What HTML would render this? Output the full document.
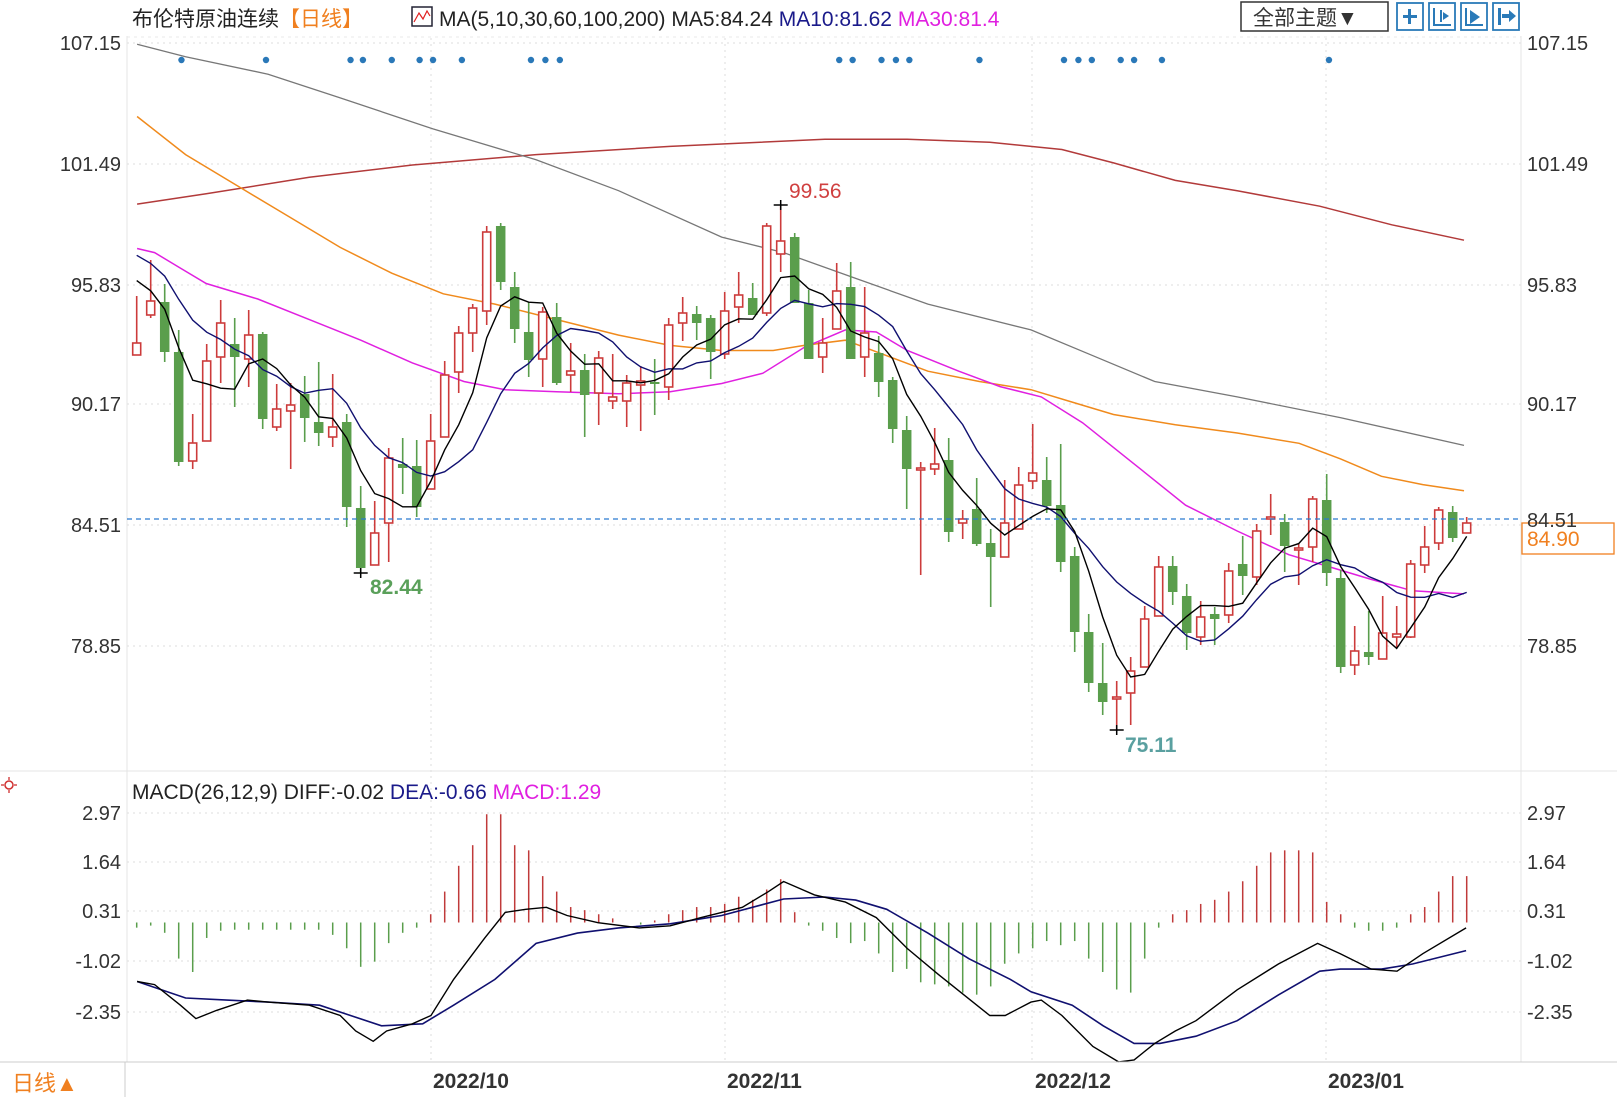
<!DOCTYPE html>
<html><head><meta charset="utf-8"><style>
html,body{margin:0;padding:0;background:#fff;}
svg{display:block;}
text{font-family:"Liberation Sans","Noto Sans CJK SC",sans-serif;}
</style></head><body>
<svg id="s" width="1617" height="1097" viewBox="0 0 1617 1097" xmlns="http://www.w3.org/2000/svg">
<rect width="1617" height="1097" fill="#fff"/>
<g id="grid"></g>
<g id="lines"></g>
<g id="candles"></g>
<g id="macd"></g>
<!-- header -->
<text x="132" y="26" font-size="21" fill="#222">布伦特原油连续<tspan fill="#f08020">【日线】</tspan></text>
<rect x="412" y="7" width="20" height="19" fill="#fff" stroke="#223" stroke-width="1.5"/>
<polyline points="414,22 419,13 423,19 427,11 430,16" fill="none" stroke="#e02020" stroke-width="1.2"/>
<text x="439" y="26" font-size="21" fill="#222">MA(5,10,30,60,100,200) MA5:84.24 <tspan fill="#1a1a8a">MA10:81.62</tspan> <tspan fill="#e020e0">MA30:81.4</tspan></text>
<rect x="1241" y="2" width="147" height="29" fill="#fff" stroke="#333" stroke-width="1.5"/>
<text x="1253" y="25" font-size="21" fill="#333">全部主题▼</text>
<g fill="none" stroke="#2a7ab8" stroke-width="1.8">
<rect x="1397" y="3" width="26" height="27"/><rect x="1429" y="3" width="26" height="27"/><rect x="1461" y="3" width="26" height="27"/><rect x="1493" y="3" width="26" height="27"/>
</g>
<g fill="#2a7ab8">
<rect x="1403" y="15" width="14" height="3"/><rect x="1408" y="9" width="3" height="15"/>
<rect x="1433" y="8" width="2" height="18"/><rect x="1433" y="24" width="18" height="2"/><rect x="1440" y="10" width="2" height="12"/><path d="M1443 12 l6 4 -6 4z"/>
<rect x="1465" y="8" width="2" height="18"/><rect x="1465" y="24" width="18" height="2"/><path d="M1470 10 l10 7 -10 7z"/>
<rect x="1498" y="8" width="3" height="17"/><rect x="1502" y="14" width="8" height="4"/><path d="M1509 10 l7 6 -7 6z"/>
</g>
<!-- macd header -->
<circle cx="9" cy="785" r="4" fill="none" stroke="#d03030" stroke-width="1.5"/>
<g stroke="#d03030" stroke-width="1.3"><line x1="1" y1="785" x2="4" y2="785"/><line x1="14" y1="785" x2="17" y2="785"/><line x1="9" y1="777" x2="9" y2="780"/><line x1="9" y1="790" x2="9" y2="793"/></g>
<text x="132" y="799" font-size="21" fill="#222">MACD(26,12,9) DIFF:-0.02 <tspan fill="#1a1a8a">DEA:-0.66</tspan> <tspan fill="#e020e0">MACD:1.29</tspan></text>
<!-- bottom -->
<line x1="0" y1="1062" x2="1617" y2="1062" stroke="#ccc" stroke-width="1"/>
<line x1="125" y1="1062" x2="125" y2="1097" stroke="#ccc" stroke-width="1"/>
<text x="12" y="1091" font-size="22" fill="#f08020">日线▲</text>
<g font-size="21" font-weight="bold" fill="#333">
<text x="433" y="1088">2022/10</text><text x="727" y="1088">2022/11</text><text x="1035" y="1088">2022/12</text><text x="1328" y="1088">2023/01</text>
</g>
<!-- price labels -->
<g font-size="20" fill="#333" id="axl"></g>
</svg>
<script>
var NS="http://www.w3.org/2000/svg";
function el(p,t,a,txt){var e=document.createElementNS(NS,t);for(var k in a)e.setAttribute(k,a[k]);if(txt!==undefined)e.textContent=txt;document.getElementById(p).appendChild(e);return e;}
var S=1.031;
function sc(a){return a.map(function(p){return (p[0]*S).toFixed(1)+","+(p[1]*S).toFixed(1);}).join(" ");}
// grid
var hy=[43,164,285,404,525,646];var lab=["107.15","101.49","95.83","90.17","84.51","78.85"];
for(var i=0;i<hy.length;i++){
 el("grid","line",{x1:127,y1:hy[i],x2:1521,y2:hy[i],stroke:"#ddd","stroke-dasharray":"2,4"});
 el("axl","text",{x:121,y:hy[i]+7,"text-anchor":"end"},lab[i]);
 if(i!=4) el("axl","text",{x:1527,y:hy[i]+7},lab[i]);
}
el("axl","text",{x:1527,y:hy[4]+2},"84.51");
var my=[813,862,911,961,1012];var ml=["2.97","1.64","0.31","-1.02","-2.35"];
for(var i=0;i<my.length;i++){
 el("grid","line",{x1:127,y1:my[i],x2:1521,y2:my[i],stroke:"#ddd","stroke-dasharray":"2,4"});
 el("axl","text",{x:121,y:my[i]+7,"text-anchor":"end"},ml[i]);
 el("axl","text",{x:1527,y:my[i]+7},ml[i]);
}
[431,725,1032,1326].forEach(function(x){el("grid","line",{x1:x,y1:38,x2:x,y2:1062,stroke:"#ddd","stroke-dasharray":"2,4"});});
el("grid","line",{x1:127,y1:36,x2:127,y2:1062,stroke:"#e4e4e4"});
el("grid","line",{x1:1521,y1:36,x2:1521,y2:1062,stroke:"#e4e4e4"});
el("grid","line",{x1:0,y1:771,x2:1617,y2:771,stroke:"#e4e4e4"});
el("grid","line",{x1:127,y1:37,x2:1521,y2:37,stroke:"#e8e8e8","stroke-dasharray":"3,4"});
// candles [o,c,h,l]
var C=[[355,343,296,355],[315,301,260,318],[302,352,284,362],[352,462,330,466],[461,443,414,469],[441,361,344,441],[357,323,300,383],[344,357,318,407],[359,335,310,387],[334,419,332,429],[427,409,384,431],[411,405,383,469],[394,418,376,442],[422,433,362,446],[437,427,374,447],[422,507,414,527],[508,568,486,573],[565,533,501,565],[523,458,448,562],[464,468,438,494],[466,507,440,517],[489,441,414,489],[437,375,361,437],[372,333,326,393],
[333,308,304,352],[311,232,226,325],[226,282,223,290],[287,329,272,343],[332,360,302,377],[359,312,307,387],[317,383,303,385],[375,371,343,392],[370,395,354,437],[393,358,351,425],[401,397,354,409],[401,383,375,427],[385,381,366,431],[382,383,359,415],[387,325,318,400],[323,313,297,341],[314,323,306,340],[318,352,315,379],[354,311,292,359],[307,295,272,323],[298,315,283,315],[313,226,223,316],[254,241,206,272],[237,303,233,303],[303,359,290,359],[357,343,318,373],[329,291,263,329],[287,359,262,359],[357,333,287,377],
[353,382,336,397],[380,429,377,443],[430,469,416,509],[469,468,462,575],[469,464,428,475],[460,532,438,542],[523,519,510,539],[509,544,478,546],[543,557,529,607],[557,523,480,557],[529,485,467,529],[481,473,424,489],[480,506,457,513],[505,562,444,572],[556,632,547,652],[632,683,614,692],[683,702,643,715],[699,697,681,731],[693,671,657,725],[667,619,606,667],[616,567,556,616],[566,592,556,605],[596,633,584,650],
[637,617,601,645],[614,619,607,645],[615,571,563,623],[564,576,536,595],[577,531,524,585],[519,517,494,535],[522,546,514,572],[549,548,543,585],[547,499,496,562],[500,573,474,586],[578,667,570,673],[665,651,626,675],[652,657,611,665],[659,633,596,659],[637,634,606,648],[637,564,560,638],[565,547,526,573],[543,510,507,550],[512,538,506,542],[533,523,517,533]];
function X(i){return 136.7+14*i;}
var red="#cc3b3b",grn="#5a9e4c",w=9.5;
C.forEach(function(c,i){
 var x=X(i),o=c[0],cl=c[1],h=c[2],l=c[3];
 var up=cl<=o; var top=Math.min(o,cl),bot=Math.max(o,cl); if(bot-top<2){bot=top+2;}
 var col=up?red:grn;
 el("candles","line",{x1:x,y1:h,x2:x,y2:l,stroke:col,"stroke-width":1.6});
 if(up) el("candles","rect",{x:x-w/2+0.75,y:top,width:w-1.5,height:bot-top,fill:"#fff",stroke:col,"stroke-width":1.6});
 else el("candles","rect",{x:x-w/2,y:top,width:w,height:bot-top,fill:col});
});
// MA5/MA10 from closes
var pad=[220,225,230,235,240,250,260,270,280];
var cls=pad.concat(C.map(function(c){return c[1];}));
function ma(n){var pts=[];for(var i=0;i<C.length;i++){var s=0;for(var k=0;k<n;k++)s+=cls[i+9-k];pts.push(X(i).toFixed(1)+","+(s/n).toFixed(1));}return pts.join(" ");}
// hand lines (displayed coords)
var MA30=[[133,241],[150,245],[175,260],[200,275],[250,290],[300,310],[350,330],[400,352],[450,370],[490,378],[540,380],[600,382],[650,380],[700,372],[740,362],[780,337],[820,320],[850,322],[880,340],[930,360],[970,375],[1010,385],[1050,410],[1100,450],[1150,490],[1200,515],[1250,538],[1290,550],[1330,562],[1370,573],[1420,576]];
var MA60=[[133,113],[180,150],[230,180],[280,210],[330,240],[380,265],[430,285],[480,295],[540,310],[600,325],[650,335],[700,340],[750,340],[780,335],[820,330],[860,345],[900,360],[950,370],[1000,378],[1040,390],[1080,402],[1140,412],[1200,420],[1260,430],[1300,445],[1340,462],[1380,470],[1420,476]];
var MA100=[[133,43],[180,55],[260,72],[330,95],[420,125],[520,155],[600,185],[700,230],[760,245],[830,270],[900,295],[1000,320],[1060,345],[1120,370],[1200,385],[1300,405],[1420,432]];
var MA200=[[133,198],[200,188],[300,172],[400,160],[520,150],[650,142],[800,135],[880,135],[960,138],[1030,145],[1080,158],[1140,175],[1200,185],[1280,200],[1350,218],[1420,233]];
el("lines","polyline",{points:sc(MA200),fill:"none",stroke:"#b23a3a","stroke-width":1.5});
el("lines","polyline",{points:sc(MA100),fill:"none",stroke:"#777","stroke-width":1.3});
el("lines","polyline",{points:sc(MA60),fill:"none",stroke:"#f08a1c","stroke-width":1.5});
el("lines","polyline",{points:sc(MA30),fill:"none",stroke:"#e020e0","stroke-width":1.5});
el("candles","polyline",{points:ma(10),fill:"none",stroke:"#101070","stroke-width":1.4});
el("candles","polyline",{points:ma(5),fill:"none",stroke:"#000","stroke-width":1.4});
// current price line
el("candles","line",{x1:127,y1:519,x2:1521,y2:519,stroke:"#2a7ad0","stroke-width":1.3,"stroke-dasharray":"5,4"});
el("candles","rect",{x:1522,y:523,width:92,height:31,fill:"#fff",stroke:"#f08020","stroke-width":1.3});
el("candles","text",{x:1527,y:546,"font-size":21,fill:"#f08020"},"84.90");
// dots
[176,258,340,352,380,407,420,448,515,529,543,814,827,855,869,882,950,1032,1046,1059,1087,1100,1127,1289].forEach(function(x){el("candles","circle",{cx:x*S,cy:60,r:3.2,fill:"#2a78b8"});});
// high/low marks
function mark(x,y){el("candles","line",{x1:x-7,y1:y,x2:x+7,y2:y,stroke:"#000","stroke-width":1.5});el("candles","line",{x1:x,y1:y-5,x2:x,y2:y+5,stroke:"#000","stroke-width":1.5});}
mark(X(46),205);mark(X(16),573);mark(X(70),730);
el("candles","text",{x:789,y:198,"font-size":21,fill:"#d04040"},"99.56");
el("candles","text",{x:370,y:594,"font-size":21,fill:"#5aa05a","font-weight":"bold"},"82.44");
el("candles","text",{x:1125,y:752,"font-size":21,fill:"#5aa0a0","font-weight":"bold"},"75.11");
// MACD histogram
var H=[-5,-3,-10,-35,-48,-15,-8,-7,-7,-7,-7,-7,-7,-7,-12,-25,-43,-38,-20,-10,-5,8,30,55,75,105,105,75,70,45,30,15,12,8,4,0,-2,2,8,12,15,15,18,25,22,32,42,10,-3,-8,-15,-20,-18,-30,-48,-45,-58,-60,-62,-68,-70,-62,-40,-30,-25,-18,-22,-18,-35,-48,-65,-68,-35,-5,8,12,18,22,30,40,55,68,70,70,68,20,8,-5,-8,-8,-5,8,15,30,45,45];
var z=922.5;
H.forEach(function(v,i){var h=v*S;el("macd","line",{x1:X(i),y1:z,x2:X(i),y2:z-h,stroke:v>=0?"#c03a3a":"#5a9e4c","stroke-width":1.5});});
var DIFF=[[133,952],[150,955],[175,975],[190,988],[210,980],[240,970],[260,972],[300,975],[330,985],[345,1000],[362,1010],[375,1000],[400,993],[418,985],[440,950],[470,910],[490,885],[510,882],[530,880],[550,888],[580,895],[620,900],[650,898],[680,890],[720,880],[745,865],[760,855],[790,868],[820,875],[850,890],[880,920],[910,945],[935,965],[960,985],[975,985],[1000,972],[1010,970],[1030,985],[1060,1015],[1085,1030],[1100,1028],[1120,1012],[1140,1000],[1160,990],[1200,960],[1240,935],[1278,915],[1300,925],[1330,940],[1355,942],[1380,925],[1422,900]];
var DEA=[[133,952],[180,968],[220,970],[260,972],[310,975],[340,985],[370,995],[410,993],[440,975],[480,950],[520,915],[560,905],[600,900],[650,896],[700,888],[760,872],[800,870],[830,873],[860,882],[900,905],[940,930],[980,950],[1000,962],[1040,975],[1070,995],[1100,1012],[1125,1012],[1160,1005],[1200,990],[1240,965],[1280,942],[1300,940],[1340,940],[1370,935],[1422,922]];
el("macd","polyline",{points:sc(DEA),fill:"none",stroke:"#101070","stroke-width":1.6});
el("macd","polyline",{points:sc(DIFF),fill:"none",stroke:"#000","stroke-width":1.4});
</script>
</body></html>
